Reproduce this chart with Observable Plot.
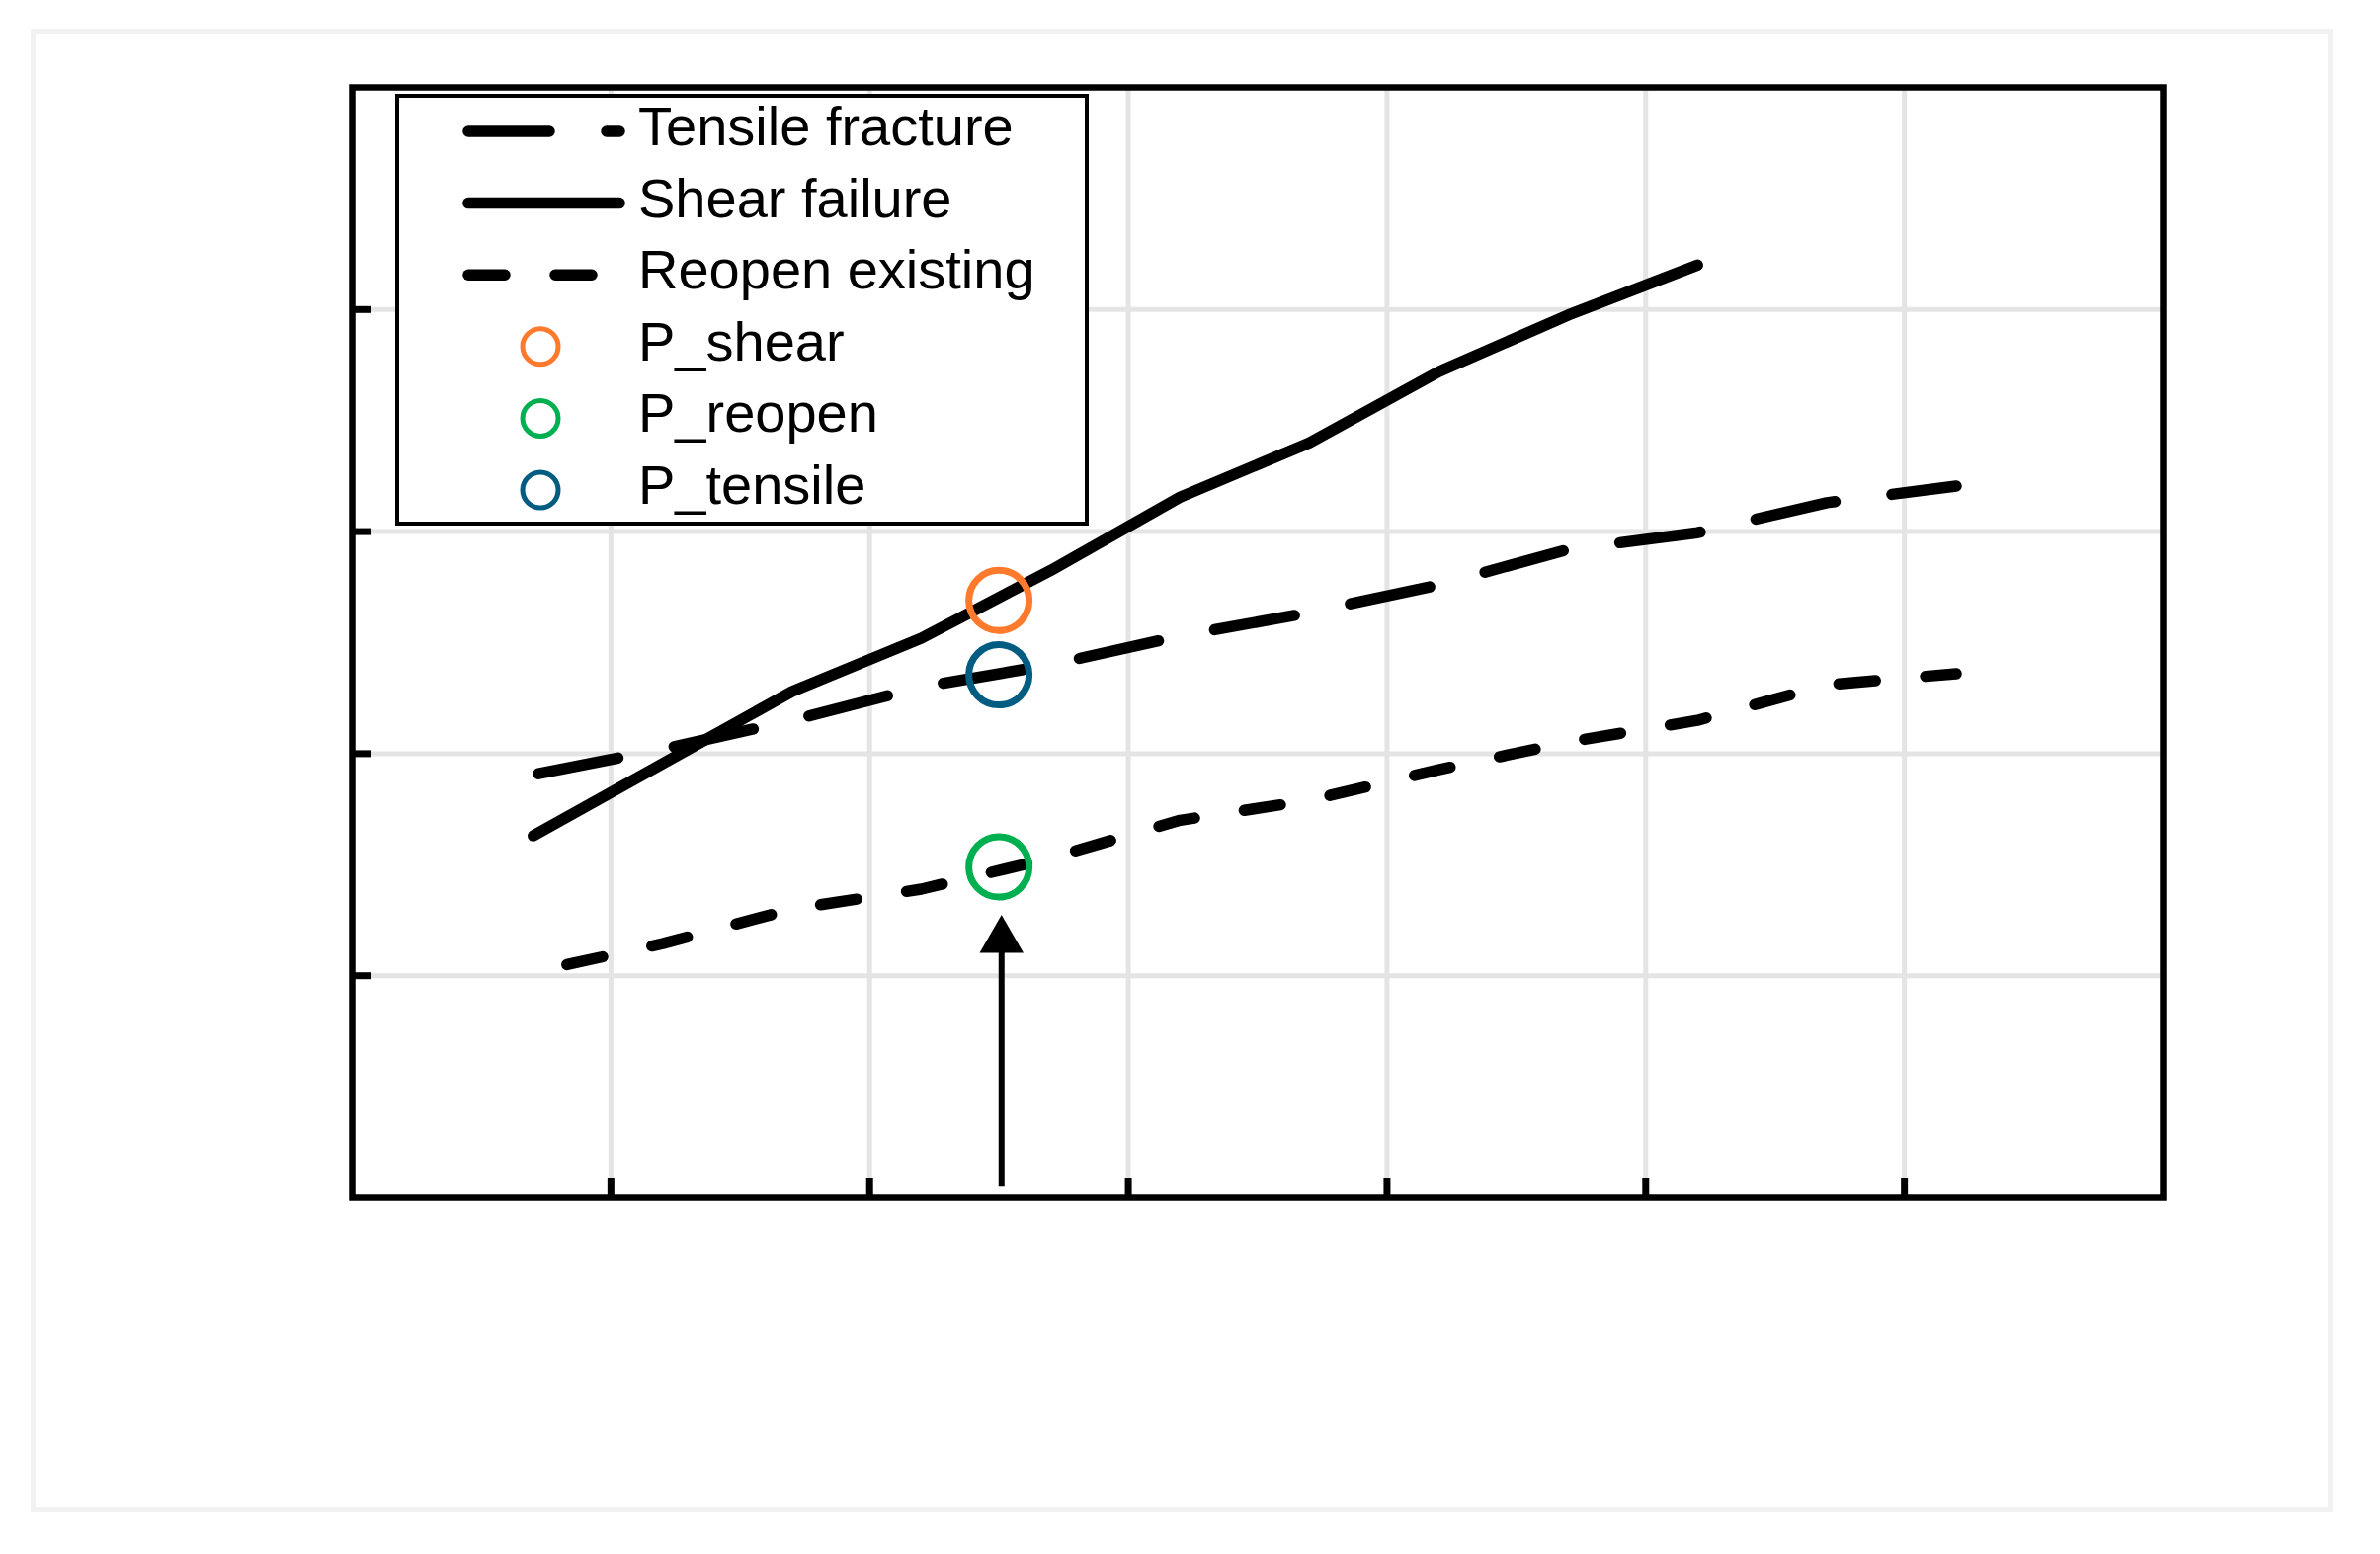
<!DOCTYPE html>
<html>
<head>
<meta charset="utf-8">
<script src="https://cdn.jsdelivr.net/npm/d3@7"></script>
<script src="https://cdn.jsdelivr.net/npm/@observablehq/plot@0.6"></script>
<style>
  html, body { margin: 0; padding: 0; background: #ffffff; }
  #wrap { position: relative; width: 2409px; height: 1573px; overflow: hidden; }
  #border { position: absolute; left: 31px; top: 29px; width: 2330px; height: 1501px;
            border: 5px solid #f2f2f2; box-sizing: border-box; }
  #chart { position: absolute; left: 0; top: 0; }
  #legend { position: absolute; left: 400px; top: 95px; }
</style>
</head>
<body>
<div id="wrap">
  <div id="border"></div>
  <div id="chart"></div>
  <div id="legend"></div>
</div>
<script>
// ---------- data ----------
const xTicks = [1, 2, 3, 4, 5, 6];
const yTicks = [1, 2, 3, 4];

const seriesNames = ["Tensile fracture", "Shear failure", "Reopen existing"];

const tensileX = [0.72, 1.2, 1.7, 2.2, 2.7, 3.2, 3.7, 4.2, 4.7, 5.2, 5.7, 6.2];
const tensileY = [1.91, 2.02, 2.15, 2.30, 2.40, 2.53, 2.635, 2.76, 2.92, 2.995, 3.13, 3.205];

const shearX = [0.70, 1.2, 1.7, 2.2, 2.7, 3.2, 3.7, 4.2, 4.7, 5.2];
const shearY = [1.63, 1.955, 2.28, 2.52, 2.825, 3.155, 3.40, 3.72, 3.975, 4.20];

const reopenX = [0.83, 1.2, 1.7, 2.2, 2.7, 3.2, 3.7, 4.2, 4.7, 5.2, 5.7, 6.2];
const reopenY = [1.05, 1.145, 1.30, 1.39, 1.53, 1.70, 1.79, 1.928, 2.052, 2.15, 2.31, 2.36];

const pointNames = ["P_shear", "P_reopen", "P_tensile"];
const pointX = [2.50, 2.50, 2.50];
const pointY = [2.69, 1.49, 2.355];
const pointColors = ["#ff7a2c", "#00b050", "#005c80"];

const arrowX = [2.51];
const arrowTailY = [0.05];
const arrowHeadY = [1.16];

// ---------- styles ----------
const lineWidth = 11.5;
const dashes = ["82,58", null, "37,51"];

const toRows = (xs, ys) => xs.map((x, i) => ({x, y: ys[i]}));
const tensile = toRows(tensileX, tensileY);
const shear = toRows(shearX, shearY);
const reopen = toRows(reopenX, reopenY);
const points = pointNames.map((name, i) => ({name, x: pointX[i], y: pointY[i], color: pointColors[i]}));
const arrow = arrowX.map((x, i) => ({x, y1: arrowTailY[i], y2: arrowHeadY[i]}));

const lineOpts = (dash) => ({
  x: "x", y: "y", stroke: "black", strokeWidth: lineWidth,
  strokeLinecap: "round", strokeLinejoin: "round",
  ...(dash ? {strokeDasharray: dash} : {})
});

const chart = Plot.plot({
  width: 2409,
  height: 1573,
  marginLeft: 356,
  marginRight: 220,
  marginTop: 88,
  marginBottom: 361,
  x: {domain: [0, 7], axis: null},
  y: {domain: [0, 5], axis: null},
  style: {background: "transparent", overflow: "visible"},
  marks: [
    Plot.ruleX(xTicks, {stroke: "#e4e4e4", strokeWidth: 5}),
    Plot.ruleY(yTicks, {stroke: "#e4e4e4", strokeWidth: 5}),
    Plot.axisX(xTicks, {anchor: "bottom", tickSize: -20, stroke: "black", strokeWidth: 7, fill: "none", tickFormat: () => "", label: null}),
    Plot.axisY(yTicks, {anchor: "left", tickSize: -20, stroke: "black", strokeWidth: 7, fill: "none", tickFormat: () => "", label: null}),
    Plot.frame({stroke: "black", strokeWidth: 6.5}),
    Plot.line(tensile, lineOpts(dashes[0])),
    Plot.line(shear, lineOpts(dashes[1])),
    Plot.line(reopen, lineOpts(dashes[2])),
    Plot.link(arrow, {x1: "x", x2: "x", y1: "y1", y2: "y2", stroke: "black", strokeWidth: 6}),
    Plot.dot(arrow, {x: "x", y: "y2", symbol: "triangle", r: 16.5, fill: "black", stroke: "none"}),
    Plot.dot(points, {x: "x", y: "y", r: 30.5, stroke: "color", strokeWidth: 7, fill: "none"})
  ]
});
document.getElementById("chart").appendChild(chart);

// ---------- legend (inside plot, top-left) ----------
const lgW = 702, lgH = 437, rowTop = 38, rowStep = 72.6;
const lg = d3.select("#legend").append("svg")
  .attr("width", lgW).attr("height", lgH)
  .attr("font-family", "'Liberation Sans', Arial, sans-serif");
lg.append("rect").attr("x", 2).attr("y", 2).attr("width", lgW - 4).attr("height", lgH - 4)
  .attr("fill", "white").attr("stroke", "black").attr("stroke-width", 4);

const legendEntries = seriesNames.map((name, i) => ({name, type: "line", dash: dashes[i]}))
  .concat(pointNames.map((name, i) => ({name, type: "dot", color: pointColors[i]})));

legendEntries.forEach((e, i) => {
  const cy = rowTop + i * rowStep;
  if (e.type === "line") {
    const l = lg.append("line").attr("x1", 74).attr("x2", 227).attr("y1", cy).attr("y2", cy)
      .attr("stroke", "black").attr("stroke-width", lineWidth).attr("stroke-linecap", "round");
    if (e.dash) l.attr("stroke-dasharray", e.dash);
  } else {
    lg.append("circle").attr("cx", 147).attr("cy", cy).attr("r", 18)
      .attr("fill", "none").attr("stroke", e.color).attr("stroke-width", 5);
  }
  lg.append("text").attr("x", 246).attr("y", cy + 14)
    .attr("font-size", 56).attr("fill", "black").text(e.name);
});
</script>
</body>
</html>
